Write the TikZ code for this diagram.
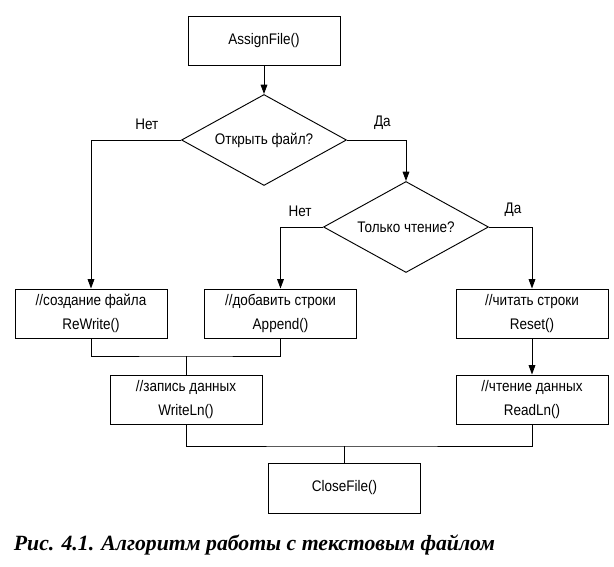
\documentclass[tikz,border=0pt]{standalone}
\usepackage{fontspec}
\setmainfont{Liberation Sans}[FakeStretch=0.88]
\newfontfamily\capfont{Liberation Serif}
\usetikzlibrary{shapes.geometric,arrows.meta}

\begin{document}
\begin{tikzpicture}[x=0.75pt,y=-0.75pt,line width=0.7pt,
    >={Triangle[length=7pt,width=5pt]},
    every node/.style={font=\fontsize{11.5}{18}\selectfont},
    block/.style={draw,minimum width=114pt,minimum height=36.75pt,align=center},
    decision/.style={draw,diamond,aspect=1.8,inner sep=0pt,minimum width=123.75pt,minimum height=68.25pt}]
      \useasboundingbox (0,0) rectangle (614,567);
      \node [block] (assign) at (264,40.5) {AssignFile()};
      \node [decision] (open) at (264,140) {Открыть файл?};
      \node [decision] (ro) at (406,227) {Только чтение?};
      \node [block] (rewrite) at (91,313.5) {//создание файла\\ReWrite()};
      \node [block] (append) at (280.5,313.5) {//добавить строки\\Append()};
      \node [block] (reset) at (532,313.5) {//читать строки\\Reset()};
      \node [block] (writeln) at (186,399.5) {//запись данных\\WriteLn()};
      \node [block] (readln) at (532,399.5) {//чтение данных\\ReadLn()};
      \node [block,minimum height=37.5pt] (close) at (344.5,488) {CloseFile()};
      \node [anchor=west,font=\capfont\bfseries\itshape\fontsize{16.3}{18}\selectfont] (caption) at (9,545) {Рис. 4.1. Алгоритм работы с текстовым файлом};
      \coordinate (jw) at (186,356);
      \coordinate (jc) at (344.5,446);
      \path [->]
      (assign) edge (open)
      (reset) edge (readln);
      \draw [->] (open.west) -| node [pos=0.19,above=4pt] {Нет} (rewrite);
      \draw [->] (open.east) -| node [pos=0.3,above=4pt] {Да} (ro);
      \draw [->] (ro.west) -| node [pos=0.27,above=4pt] {Нет} (append);
      \draw [->] (ro.east) -| node [pos=0.28,above=4pt] {Да} (reset);
      \draw (rewrite.south) |- (jw) -| (append.south);
      \draw (jw) -- (writeln);
      \draw (writeln.south) |- (jc) -| (readln.south);
      \draw (jc) -- (close);
    \end{tikzpicture}
\end{document}
